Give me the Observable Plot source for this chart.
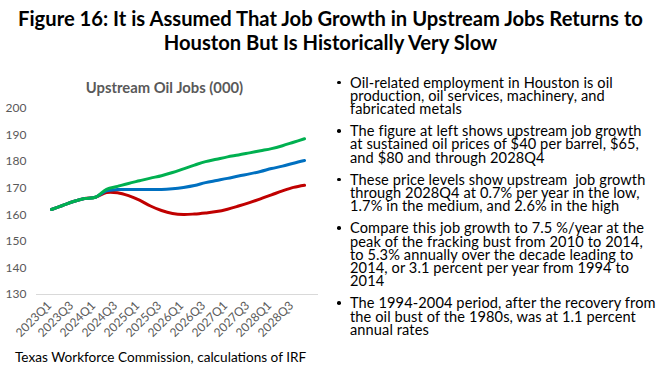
<!DOCTYPE html>
<html>
<head>
<meta charset="utf-8">
<script src="https://cdn.jsdelivr.net/npm/d3@7"></script>
<script src="https://cdn.jsdelivr.net/npm/@observablehq/plot@0.6"></script>
<style>
  html, body { margin: 0; padding: 0; background: #fff; }
  #page { position: relative; width: 661px; height: 368px; overflow: hidden; font-family: Lato, "Noto Sans", sans-serif; }
  #title { position: absolute; left: 0; top: 6px; width: 661px; text-align: center; font-weight: bold; font-size: 20.2px; color: #000; }
  #title div { height: 24px; line-height: 24px; white-space: nowrap; }
  #charttitle { position: absolute; left: 36px; width: 257px; top: 79px; text-align: center; font-weight: bold; font-size: 14.8px; line-height: 16px; color: #595959; white-space: nowrap; }
  #chart { position: absolute; left: 0; top: 60px; }
  #caption { position: absolute; left: 15px; top: 349px; font-size: 13.6px; line-height: 16px; color: #000; white-space: nowrap; }
  #bullets { position: absolute; left: 335px; top: 75.5px; width: 326px; font-size: 14.6px; letter-spacing: 0.1px; color: #000; }
  .b { position: relative; padding-left: 15px; margin-bottom: 8.7px; }
  .b div { height: 13.3px; line-height: 13.3px; white-space: nowrap; }
  .b::before { content: ""; position: absolute; left: 2px; top: 5px; width: 3.6px; height: 3.6px; border-radius: 50%; background: #000; }
</style>
</head>
<body>
<div id="page">
  <div id="title"><div>Figure 16: It is Assumed That Job Growth in Upstream Jobs Returns to</div><div>Houston But Is Historically Very Slow</div></div>
  <div id="chart"></div>
  <div id="charttitle">Upstream Oil Jobs (000)</div>
  <div id="caption">Texas Workforce Commission, calculations of IRF</div>
  <div id="bullets">
    <div class="b"><div>Oil-related employment in Houston is oil</div><div>production, oil services, machinery, and</div><div>fabricated metals</div></div>
    <div class="b"><div>The figure at left shows upstream job growth</div><div>at sustained oil prices of $40 per barrel, $65,</div><div>and $80 and through 2028Q4</div></div>
    <div class="b"><div>These price levels show upstream&nbsp; job growth</div><div>through 2028Q4 at 0.7% per year in the low,</div><div>1.7% in the medium, and 2.6% in the high</div></div>
    <div class="b"><div>Compare this job growth to 7.5 %/year at the</div><div>peak of the fracking bust from 2010 to 2014,</div><div>to 5.3% annually over the decade leading to</div><div>2014, or 3.1 percent per year from 1994 to</div><div>2014</div></div>
    <div class="b"><div>The 1994-2004 period, after the recovery from</div><div>the oil bust of the 1980s, was at 1.1 percent</div><div>annual rates</div></div>
  </div>
</div>
<script>
const quarters = ["2023Q1","2023Q2","2023Q3","2023Q4","2024Q1","2024Q2","2024Q3","2024Q4",
  "2025Q1","2025Q2","2025Q3","2025Q4","2026Q1","2026Q2","2026Q3","2026Q4",
  "2027Q1","2027Q2","2027Q3","2027Q4","2028Q1","2028Q2","2028Q3","2028Q4"];
const xTickLabels = ["2023Q1","2023Q3","2024Q1","2024Q3","2025Q1","2025Q3","2026Q1","2026Q3","2027Q1","2027Q3","2028Q1","2028Q3"];
const yTicks = [130,140,150,160,170,180,190,200];
const high = [162.0,163.5,165.0,166.1,166.6,169.6,170.7,171.8,172.8,173.8,174.7,175.9,177.3,178.7,180.0,180.9,181.8,182.5,183.3,184.1,184.9,186.0,187.3,188.6];
const mid  = [162.0,163.5,165.0,166.1,166.6,169.0,169.5,169.5,169.5,169.5,169.5,169.8,170.3,171.0,172.1,172.9,173.7,174.6,175.4,176.3,177.4,178.3,179.4,180.4];
const low  = [162.0,163.5,165.0,166.1,166.6,168.4,168.3,167.2,165.5,163.3,161.6,160.5,160.1,160.3,160.7,161.2,162.1,163.3,164.6,166.0,167.5,169.0,170.3,171.1];

const rows = (vals) => quarters.map((q, i) => ({q, v: vals[i]}));
const lineOpts = (color) => ({x: "q", y: "v", stroke: color, strokeWidth: 3, curve: "catmull-rom", strokeLinecap: "round", strokeLinejoin: "round"});

const chart = Plot.plot({
  width: 325, height: 290,
  marginTop: 48, marginBottom: 56, marginLeft: 36, marginRight: 7,
  style: {fontFamily: "Lato, 'Noto Sans', sans-serif", fontSize: "12px", color: "#595959", background: "transparent"},
  x: {type: "point", domain: quarters, padding: 0.5, label: null},
  y: {domain: [130, 200], label: null},
  marks: [
    Plot.ruleY([130], {stroke: "#d9d9d9", strokeWidth: 1}),
    Plot.axisY({ticks: yTicks, tickSize: 0, tickPadding: 10, label: null, fill: "#595959"}),
    Plot.axisX({ticks: xTickLabels, tickSize: 0, tickPadding: 3, tickRotate: -45, dx: -2, dy: 6, label: null, fill: "#595959"}),
    Plot.line(rows(low), lineOpts("#C00000")),
    Plot.line(rows(mid), lineOpts("#0070C0")),
    Plot.line(rows(high), lineOpts("#00B050"))
  ]
});
document.getElementById("chart").appendChild(chart);
</script>
</body>
</html>
